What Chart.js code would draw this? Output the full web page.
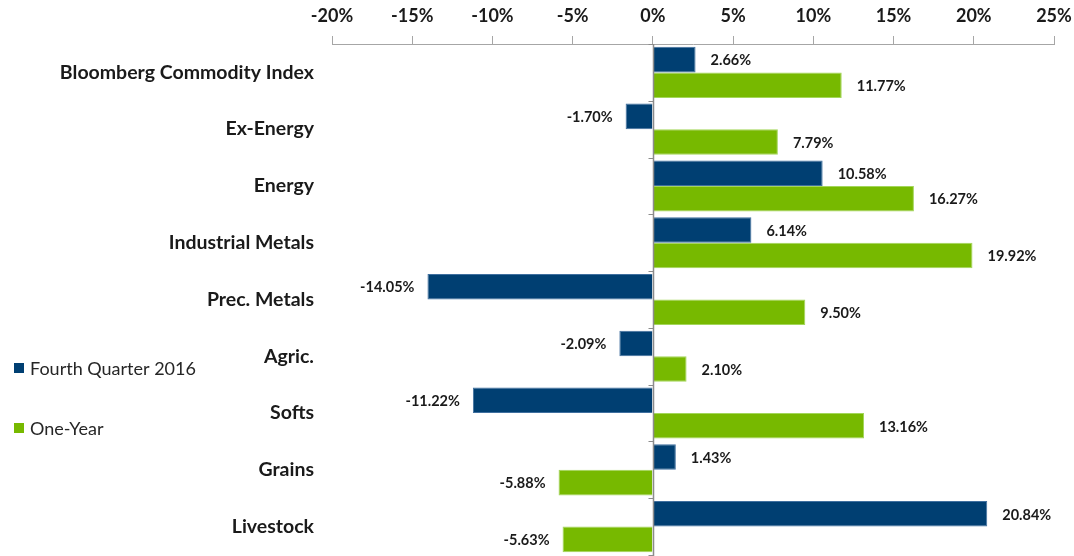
<!DOCTYPE html>
<html>
<head>
<meta charset="utf-8">
<style>
  html, body { margin: 0; padding: 0; background: #ffffff; }
  #wrap { position: relative; width: 1074px; height: 556px; }
</style>
<script src="https://cdn.jsdelivr.net/npm/chart.js@4/dist/chart.umd.min.js"></script>
</head>
<body>
<div id="wrap"><canvas id="chart" width="1074" height="556"></canvas></div>
<script>
// Commodity index returns, fourth quarter 2016 vs. one-year
const categories = [
  'Bloomberg Commodity Index', 'Ex-Energy', 'Energy', 'Industrial Metals',
  'Prec. Metals', 'Agric.', 'Softs', 'Grains', 'Livestock'
];
const seriesNames = ['Fourth Quarter 2016', 'One-Year'];
const fourthQuarter = [2.66, -1.70, 10.58, 6.14, -14.05, -2.09, -11.22, 1.43, 20.84];
const oneYear = [11.77, 7.79, 16.27, 19.92, 9.50, 2.10, 13.16, -5.88, -5.63];
const tickValues = [-20, -15, -10, -5, 0, 5, 10, 15, 20, 25];

const FONT = 'Lato, "Open Sans", sans-serif';
const BLUE = '#003f72';
const GREEN = '#77b900';
const AXIS_GRAY = '#a6a6a6';

// Vertical line at 0% with small marks between categories
const zeroLine = {
  id: 'zeroLine',
  afterDatasetsDraw(chart) {
    const { ctx, chartArea, scales } = chart;
    const x0 = Math.round(scales.x.getPixelForValue(0)) + 0.5;
    const ys = scales.y;
    const step = (ys.getPixelForValue(1) - ys.getPixelForValue(0));
    ctx.save();
    ctx.strokeStyle = '#8c8c8c';
    ctx.lineWidth = 1.5;
    ctx.beginPath();
    ctx.moveTo(x0, chartArea.top);
    ctx.lineTo(x0, chartArea.bottom + 2);
    ctx.stroke();
    ctx.lineWidth = 1;
    for (let i = 0; i <= categories.length; i++) {
      const y = Math.round(ys.getPixelForValue(0) - step / 2 + i * step) + 0.5;
      ctx.beginPath();
      ctx.moveTo(x0 - 5, y);
      ctx.lineTo(x0, y);
      ctx.stroke();
    }
    ctx.restore();
  }
};

// Percentage labels at the outer end of each bar
const valueLabels = {
  id: 'valueLabels',
  afterDatasetsDraw(chart) {
    const { ctx } = chart;
    ctx.save();
    ctx.font = 'bold 14.5px ' + FONT;
    ctx.fillStyle = '#1a1a1a';
    ctx.textBaseline = 'middle';
    chart.data.datasets.forEach((ds, di) => {
      const meta = chart.getDatasetMeta(di);
      meta.data.forEach((el, i) => {
        const v = ds.data[i];
        const txt = v.toFixed(2) + '%';
        if (v >= 0) {
          ctx.textAlign = 'left';
          ctx.fillText(txt, el.x + 15, el.y + 1);
        } else {
          ctx.textAlign = 'right';
          ctx.fillText(txt, el.x - 13, el.y + 1);
        }
      });
    });
    ctx.restore();
  }
};

// Legend at the left
const sideLegend = {
  id: 'sideLegend',
  afterDraw(chart) {
    const { ctx } = chart;
    const items = [
      { label: seriesNames[0], color: BLUE, y: 368 },
      { label: seriesNames[1], color: GREEN, y: 428 }
    ];
    ctx.save();
    ctx.font = '18px ' + FONT;
    ctx.textBaseline = 'middle';
    ctx.textAlign = 'left';
    items.forEach(it => {
      ctx.fillStyle = it.color;
      ctx.fillRect(14, it.y - 5, 10, 10);
      ctx.fillStyle = '#262626';
      ctx.fillText(it.label, 30, it.y + 1);
    });
    ctx.restore();
  }
};

new Chart(document.getElementById('chart'), {
  type: 'bar',
  data: {
    labels: categories,
    datasets: [
      {
        label: seriesNames[0],
        data: fourthQuarter,
        backgroundColor: BLUE,
        borderColor: '#3f6f9f',
        borderWidth: 1,
        barPercentage: 1.0,
        categoryPercentage: 0.9
      },
      {
        label: seriesNames[1],
        data: oneYear,
        backgroundColor: GREEN,
        borderColor: '#a3d65a',
        borderWidth: 1,
        barPercentage: 1.0,
        categoryPercentage: 0.9
      }
    ]
  },
  options: {
    indexAxis: 'y',
    responsive: false,
    animation: false,
    layout: { padding: { left: 0, right: 20, top: 0, bottom: 1 } },
    plugins: {
      legend: { display: false },
      tooltip: { enabled: false }
    },
    scales: {
      x: {
        position: 'top',
        min: -20,
        max: 25,
        afterBuildTicks(scale) {
          scale.ticks = tickValues.map(v => ({ value: v }));
        },
        afterFit(scale) {
          scale.height = 44;
          scale.paddingLeft = 0;
          scale.paddingRight = 0;
        },
        grid: {
          drawOnChartArea: false,
          drawTicks: true,
          tickLength: 8,
          color: AXIS_GRAY
        },
        border: { display: true, color: AXIS_GRAY, width: 1 },
        ticks: {
          padding: 9,
          color: '#1a1a1a',
          font: { family: FONT, size: 18, weight: 'bold' },
          callback: v => v + '%'
        }
      },
      y: {
        afterFit(scale) {
          scale.width = 332;
          scale.paddingTop = 0;
          scale.paddingBottom = 0;
        },
        grid: { display: false },
        border: { display: false },
        ticks: {
          padding: 10,
          color: '#1a1a1a',
          font: { family: FONT, size: 19.5, weight: 'bold' }
        }
      }
    }
  },
  plugins: [zeroLine, valueLabels, sideLegend]
});
</script>
</body>
</html>
